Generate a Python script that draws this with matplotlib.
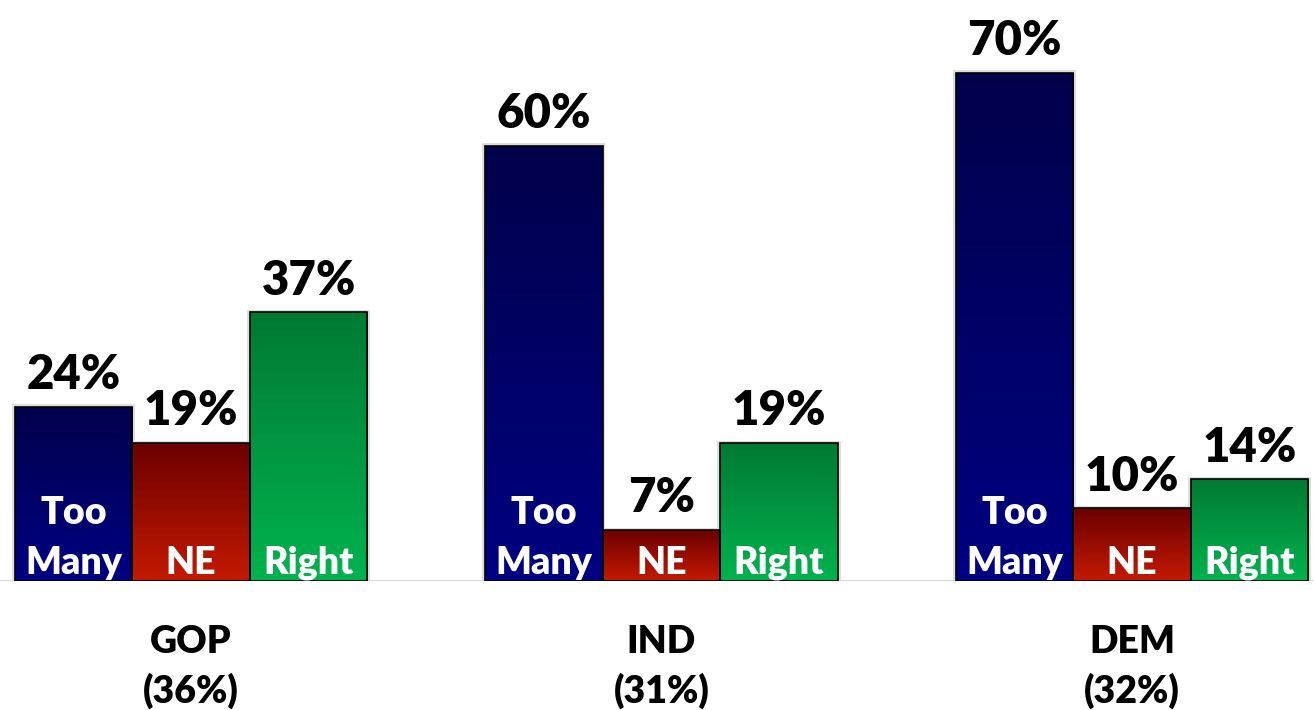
import numpy as np
import matplotlib.pyplot as plt
from matplotlib.colors import LinearSegmentedColormap
from matplotlib.patches import Rectangle

plt.rcParams['font.family'] = ['Lato', 'DejaVu Sans']

groups = ['GOP', 'IND', 'DEM']
group_share = ['(36%)', '(31%)', '(32%)']
categories = ['Too\nMany', 'NE', 'Right']
too_many = [24, 60, 70]
not_enough = [19, 7, 10]
right = [37, 19, 14]

series = [too_many, not_enough, right]
# (bottom colour, top colour) for each series gradient
grads = [('#000082', '#00004a'), ('#c41a00', '#6b0000'), ('#00b34e', '#007a33')]

fig = plt.figure(figsize=(13.14, 7.10), dpi=100)
ax = fig.add_axes([0, 129/710, 1, 580.6/710])

x = np.arange(len(groups))
w = 0.25
offs = [-w, 0, w]
grad = np.linspace(0, 1, 256).reshape(-1, 1)
wt = 'heavy'

for k in range(3):
    cmap = LinearSegmentedColormap.from_list('g%d' % k, grads[k])
    bars = ax.bar(x + offs[k], series[k], width=w, facecolor='none',
                  edgecolor='black', linewidth=1.2, zorder=4)
    for b, v in zip(bars, series[k]):
        x0, bw, h = b.get_x(), b.get_width(), b.get_height()
        # soft shadow
        ax.add_patch(Rectangle((x0 - 0.006, 0), bw + 0.012, h + 0.35,
                               facecolor='#dedede', edgecolor='none', zorder=1))
        im = ax.imshow(grad, extent=(x0, x0 + bw, 0, h), origin='lower',
                       cmap=cmap, aspect='auto', zorder=3)
        im.set_clip_path(b)
        ax.annotate('%d%%' % v, (x0 + bw/2, h), xytext=(0, 7),
                    textcoords='offset points', ha='center', va='bottom',
                    fontsize=34, fontweight=wt, color='black')
        ax.annotate(categories[k], (x0 + bw/2, 0), xytext=(0, 1),
                    textcoords='offset points', ha='center', va='bottom',
                    fontsize=27, fontweight=wt, color='white',
                    linespacing=1.55, zorder=5)

for i in range(len(groups)):
    ax.annotate(groups[i] + '\n' + group_share[i], (x[i], 0), xytext=(0, -31.5),
                textcoords='offset points', ha='center', va='top',
                fontsize=27, fontweight=wt, color='black',
                linespacing=1.45, annotation_clip=False)

ax.axhline(0, color='#d9d9d9', linewidth=1.5, zorder=2)
ax.set_xlim(-0.406, 2.387)
ax.set_ylim(0, 80)
ax.axis('off')

fig.savefig('out.png', dpi=100)
